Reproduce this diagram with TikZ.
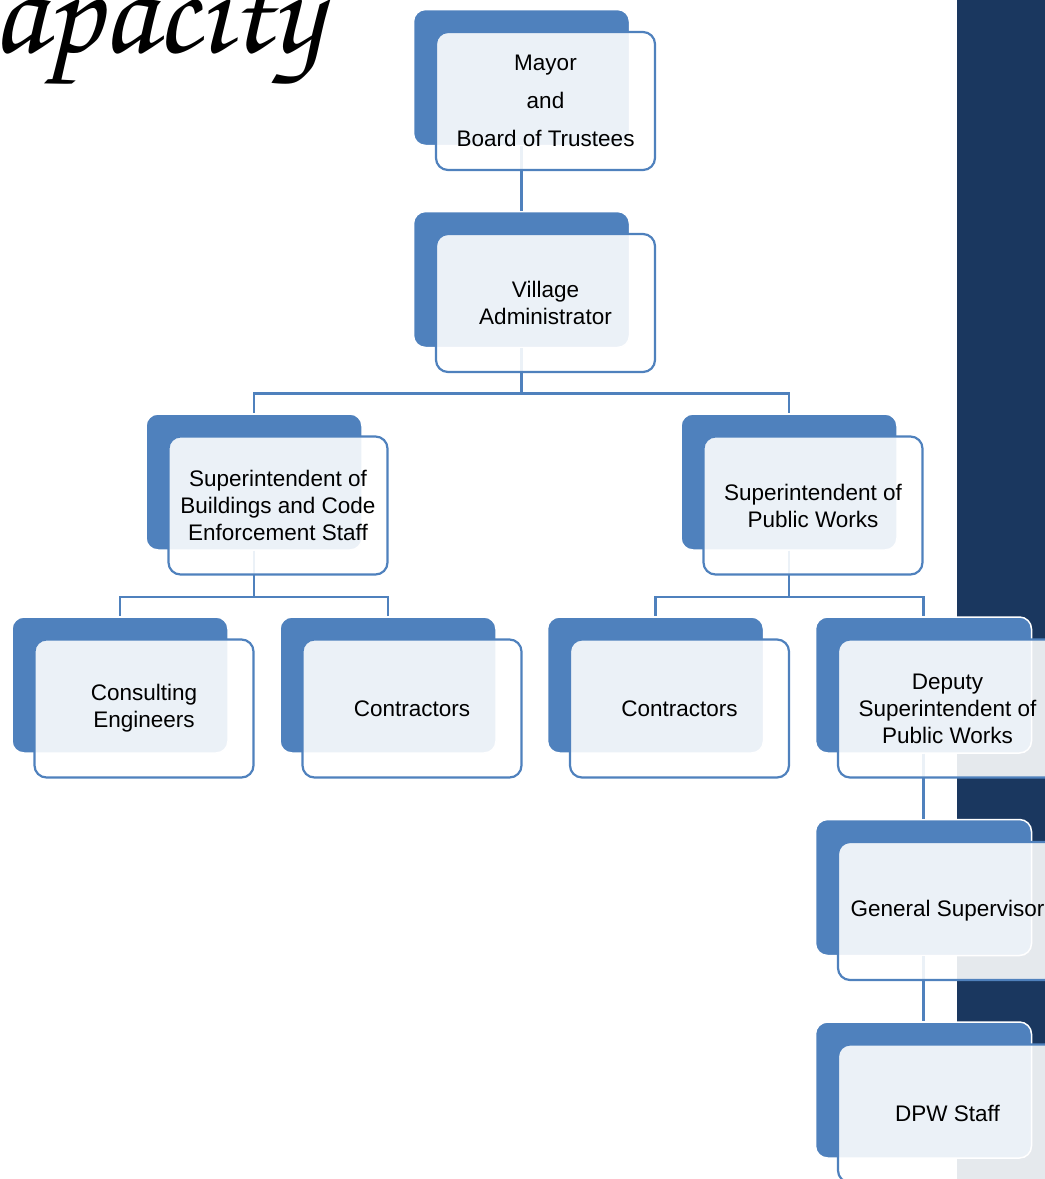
\documentclass[tikz,border=0pt]{standalone}
\usepackage[T1]{fontenc}
\usepackage{fontspec}
\setmainfont{Liberation Sans}
\usetikzlibrary{positioning}
\definecolor{orgblue}{HTML}{4F81BD}
\definecolor{navyband}{HTML}{1A375F}
\newcommand{\scripttitle}{\fontencoding{T1}\fontfamily{pzc}\fontseries{m}\fontshape{it}\fontsize{128}{130}\selectfont}
\tikzset{
  backbox/.style={rectangle, rounded corners=12pt, fill=orgblue, draw=white, line width=1.5pt,
    minimum width=216pt, minimum height=136pt, inner sep=0pt},
  frontbox/.style={rectangle, rounded corners=12pt, fill=white, fill opacity=0.89, text opacity=1,
    draw=orgblue, draw opacity=1, line width=2.2pt, minimum width=219pt, minimum height=138pt,
    align=center, font=\fontsize{22.5}{27}\selectfont},
  link/.style={draw=orgblue, line width=2.5pt},
}
\begin{document}
\begin{tikzpicture}[x=1pt, y={(0pt,-1pt)}]
            \useasboundingbox (0,0) rectangle (1045,1179);
            \clip (0,0) rectangle (1045,1179);

            % Band
            \fill[navyband] (957,-5) rectangle (1050,1185);

            % Title
            \node[anchor=base east, inner sep=0pt, font=\scripttitle, text=black] (title) at (322,52) {Capacity};

            % Back boxes
            \node[backbox] (mayor) at (521.5,77.5) {};
            \node[backbox] (admin) at (521.5,279.5) {};
            \node[backbox] (supbldg) at (254,482) {};
            \node[backbox] (suppw) at (789,482) {};
            \node[backbox] (consult) at (120,685) {};
            \node[backbox] (contrl) at (388,685) {};
            \node[backbox] (contrr) at (655.5,685) {};
            \node[backbox] (deputy) at (923.5,685) {};
            \node[backbox] (gensup) at (923.5,887.5) {};
            \node[backbox] (dpw) at (923.5,1090) {};

            % Connectors
            \draw[link] (mayor.south) -- (admin.north);
            \draw[link] (admin.south) -- ++(0,45) -| (supbldg.north);
            \draw[link] (admin.south) -- ++(0,45) -| (suppw.north);
            \draw[link] (supbldg.south) -- ++(0,46) -| (consult.north);
            \draw[link] (supbldg.south) -- ++(0,46) -| (contrl.north);
            \draw[link] (suppw.south) -- ++(0,46) -| (contrr.north);
            \draw[link] (suppw.south) -- ++(0,46) -| (deputy.north);
            \draw[link] (deputy.south) -- (gensup.north);
            \draw[link] (gensup.south) -- (dpw.north);

            % Front boxes
            \node[frontbox] (mayor-t) at ([shift={(24,23.5)}]mayor.center) {Mayor\\[11pt]and\\[11pt]Board of Trustees};
            \node[frontbox] (admin-t) at ([shift={(24,23.5)}]admin.center) {Village\\Administrator};
            \node[frontbox] (supbldg-t) at ([shift={(24,23.5)}]supbldg.center) {Superintendent of\\Buildings and Code\\Enforcement Staff};
            \node[frontbox] (suppw-t) at ([shift={(24,23.5)}]suppw.center) {Superintendent of\\Public Works};
            \node[frontbox] (consult-t) at ([shift={(24,23.5)}]consult.center) {Consulting\\Engineers};
            \node[frontbox] (contrl-t) at ([shift={(24,23.5)}]contrl.center) {Contractors};
            \node[frontbox] (contrr-t) at ([shift={(24,23.5)}]contrr.center) {Contractors};
            \node[frontbox] (deputy-t) at ([shift={(24,23.5)}]deputy.center) {Deputy\\Superintendent of\\Public Works};
            \node[frontbox] (gensup-t) at ([shift={(24,23.5)}]gensup.center) {General Supervisor};
            \node[frontbox] (dpw-t) at ([shift={(24,23.5)}]dpw.center) {DPW Staff};
\end{tikzpicture}
\end{document}
